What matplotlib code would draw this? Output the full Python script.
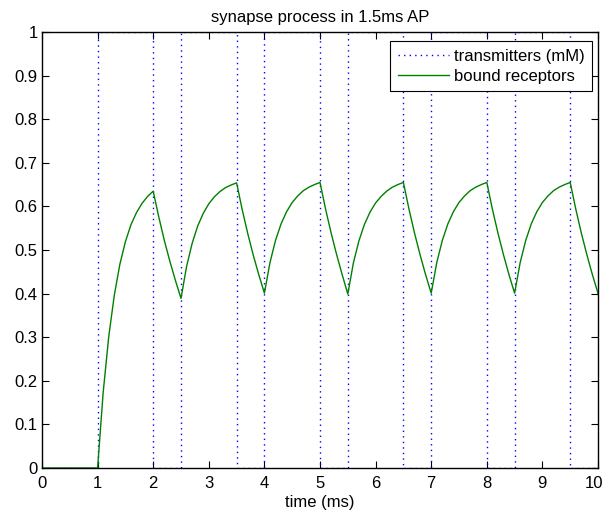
import matplotlib
matplotlib.use("Agg")
import matplotlib.pyplot as plt
import matplotlib.transforms as mtransforms

plt.rcParams['font.family'] = ['Liberation Sans', 'DejaVu Sans']

# transmitter square wave (mM): edges in ms
trans_t = [0, 1, 1, 2, 2, 2.5, 2.5, 3.5, 3.5, 4, 4, 5, 5, 5.5, 5.5, 6.5, 6.5,
           7, 7, 8, 8, 8.5, 8.5, 9.5, 9.5, 10]
trans_v = [0, 0, 1, 1, 0, 0, 1, 1, 0, 0, 1, 1, 0, 0, 1, 1, 0,
           0, 1, 1, 0, 0, 1, 1, 0, 0]

time_ms = [round(i * 0.1, 1) for i in range(101)]
bound = [
    0, 0, 0, 0, 0, 0, 0, 0, 0, 0,                 # 0.0 - 0.9
    0.000, 0.173, 0.301, 0.396, 0.467, 0.519, 0.558, 0.586, 0.607, 0.623,  # 1.0 - 1.9
    0.635, 0.576, 0.522, 0.474, 0.430, 0.389, 0.462, 0.515, 0.555, 0.584,  # 2.0 - 2.9
    0.606, 0.622, 0.634, 0.643, 0.649, 0.654, 0.593, 0.538, 0.488, 0.443,  # 3.0 - 3.9
    0.401, 0.471, 0.522, 0.560, 0.588, 0.609, 0.624, 0.636, 0.644, 0.650,  # 4.0 - 4.9
    0.655, 0.594, 0.539, 0.489, 0.443, 0.399, 0.470, 0.521, 0.559, 0.587,  # 5.0 - 5.9
    0.608, 0.623, 0.635, 0.644, 0.650, 0.655, 0.594, 0.539, 0.489, 0.443,  # 6.0 - 6.9
    0.401, 0.471, 0.522, 0.560, 0.588, 0.609, 0.624, 0.636, 0.644, 0.650,  # 7.0 - 7.9
    0.655, 0.594, 0.539, 0.489, 0.443, 0.401, 0.471, 0.522, 0.560, 0.588,  # 8.0 - 8.9
    0.609, 0.624, 0.636, 0.644, 0.650, 0.655, 0.594, 0.539, 0.489, 0.443,  # 9.0 - 9.9
    0.401,                                                                  # 10.0
]

x_ticks = list(range(0, 11))
y_ticks = [0, 0.1, 0.2, 0.3, 0.4, 0.5, 0.6, 0.7, 0.8, 0.9, 1]
y_labels = ['0', '0.1', '0.2', '0.3', '0.4', '0.5', '0.6', '0.7', '0.8', '0.9', '1']

FS = 12
fig = plt.figure(figsize=(6.05, 5.17), dpi=100)
ax = fig.add_axes([42 / 605, (517 - 468) / 517, 556 / 605, 436 / 517])

ax.plot(trans_t, trans_v, color=(0, 0, 1), linestyle=(0, (1, 3)), linewidth=1.0,
        label='transmitters (mM)')
ax.plot(time_ms, bound, color=(0, 0.5, 0), linewidth=1.0, label='bound receptors')

ax.set_xlim(0, 10)
ax.set_ylim(0, 1)
ax.set_xticks(x_ticks)
ax.set_xticklabels([str(v) for v in x_ticks])
ax.set_yticks(y_ticks)
ax.set_yticklabels(y_labels)
ax.tick_params(direction='in', top=True, right=True, length=5, width=0.8,
               labelsize=FS)
ax.tick_params(axis='x', pad=6)
ax.tick_params(axis='y', pad=3)
for s in ax.spines.values():
    s.set_linewidth(1.0)
    s.set_zorder(3)

# nudge the last x tick label so it stays inside the figure, as in the reference
last = ax.get_xticklabels()[-1]
last.set_transform(last.get_transform() +
                   mtransforms.ScaledTranslation(-3 / 72, 0, fig.dpi_scale_trans))

ax.set_xlabel('time (ms)', fontsize=FS, labelpad=3)
ax.set_title('synapse process in 1.5ms AP', fontsize=FS, pad=7)

leg = ax.legend(loc='upper right', bbox_to_anchor=(0.989, 0.979), fontsize=FS,
                fancybox=False, framealpha=1, edgecolor='black',
                handlelength=3.1, borderaxespad=0, borderpad=0.45,
                labelspacing=0.3, handletextpad=0.25)
leg.get_frame().set_linewidth(0.8)
leg.set_zorder(4)

fig.savefig('out.png', dpi=100)
